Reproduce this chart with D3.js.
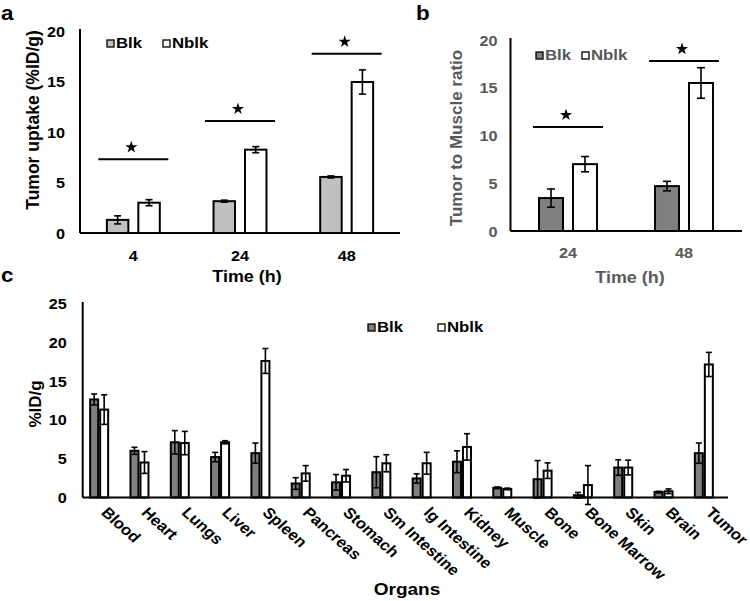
<!DOCTYPE html>
<html><head><meta charset="utf-8">
<script src="https://cdn.jsdelivr.net/npm/d3@7"></script>
<style>
body{margin:0;background:#fff;}
svg text{font-family:"Liberation Sans",Arial,sans-serif;font-weight:bold;}
</style></head>
<body><svg id="c" width="750" height="601"></svg>
<script>
// ---- data ----
const seriesNames = ["Blk","Nblk"];
// Panel a
const timesA = ["4","24","48"];
const blkA = [1.3, 3.15, 5.55];
const blkAerr = [0.4, 0.1, 0.1];
const nblkA = [3.0, 8.25, 14.95];
const nblkAerr = [0.3, 0.3, 1.2];
const sigA = [7.3, 11.1, 17.75];
const ticksA = [0,5,10,15,20];
// Panel b
const timesB = ["24","48"];
const blkB = [3.45, 4.7];
const blkBerr = [0.95, 0.5];
const nblkB = [7.0, 15.5];
const nblkBerr = [0.8, 1.6];
const sigB = [10.9, 17.8];
const ticksB = [0,5,10,15,20];
// Panel c
const organs = ["Blood","Heart","Lungs","Liver","Spleen","Pancreas","Stomach","Sm Intestine","lg Intestine","Kidney","Muscle","Bone","Bone Marrow","Skin","Brain","Tumor"];
const blkC = [12.6, 6.0, 7.1, 5.2, 5.7, 1.8, 1.95, 3.25, 2.45, 4.6, 1.25, 2.35, 0.3, 3.85, 0.7, 5.7];
const blkCerr = [0.7, 0.45, 1.5, 0.6, 1.3, 0.75, 1.0, 2.0, 0.6, 1.4, 0.1, 2.4, 0.35, 1.0, 0.1, 1.3];
const nblkC = [11.3, 4.5, 7.0, 7.1, 17.55, 3.1, 2.8, 4.4, 4.4, 6.5, 1.1, 3.45, 1.6, 3.85, 0.8, 17.1];
const nblkCerr = [1.9, 1.4, 1.5, 0.2, 1.6, 1.0, 0.8, 1.1, 1.4, 1.7, 0.1, 1.0, 2.5, 0.95, 0.3, 1.55];
const ticksC = [0,5,10,15,20,25];

const svg = d3.select("#c");
const SX = 1.12; // horizontal stretch of the lettering in the original figure

function stretchText(sel){
  // widen horizontal text around its anchor point
  sel.each(function(){
    const t = d3.select(this);
    const x = +t.attr("x") || 0;
    const prev = t.attr("transform") || "";
    t.attr("transform", `${prev} translate(${x},0) scale(${SX},1) translate(${-x},0)`);
  });
}

function panel(cfg){
  const g = svg.append("g");
  const y = d3.scaleLinear().domain(cfg.ydom).range(cfg.yr);
  const x = d3.scaleBand().domain(cfg.cats).range(cfg.xr).paddingInner(cfg.pad).paddingOuter(cfg.pad/2);
  const xs = d3.scaleBand().domain(seriesNames).range([0,x.bandwidth()]).paddingInner(cfg.ipad);
  const rows = cfg.cats.map((c,i)=>({c, vals:[
    {s:"Blk", v:cfg.blk[i], e:cfg.blkErr[i]},
    {s:"Nblk", v:cfg.nblk[i], e:cfg.nblkErr[i]}]}));
  const fills = {Blk:cfg.blkFill, Nblk:"#ffffff"};
  const sw = cfg.barStroke;
  const grp = g.selectAll("g.grp").data(rows).join("g").attr("transform", d=>`translate(${x(d.c)},0)`);
  grp.selectAll("rect").data(d=>d.vals).join("rect")
    .attr("x", d=>xs(d.s)+sw/2).attr("width", xs.bandwidth()-sw)
    .attr("y", d=>y(d.v)).attr("height", d=>y(0)-y(d.v))
    .attr("fill", d=>fills[d.s]).attr("stroke","#000").attr("stroke-width",sw);
  const eb = grp.selectAll("g.eb").data(d=>d.vals).join("g").attr("class","eb")
    .attr("transform", d=>`translate(${xs(d.s)+xs.bandwidth()/2},0)`);
  eb.append("line").attr("y1",d=>y(d.v+d.e)).attr("y2",d=>y(d.v-d.e)).attr("stroke","#000").attr("stroke-width",1.6);
  eb.append("line").attr("x1",-cfg.cap).attr("x2",cfg.cap).attr("y1",d=>y(d.v+d.e)).attr("y2",d=>y(d.v+d.e)).attr("stroke","#000").attr("stroke-width",1.6);
  eb.append("line").attr("x1",-cfg.cap).attr("x2",cfg.cap).attr("y1",d=>y(d.v-d.e)).attr("y2",d=>y(d.v-d.e)).attr("stroke","#000").attr("stroke-width",1.6);

  // y axis
  const ya = g.append("g").attr("transform",`translate(${cfg.yAxisX},0)`)
    .call(d3.axisLeft(y).tickValues(cfg.ticks).tickSize(0).tickSizeOuter(0).tickPadding(cfg.tickPadY));
  ya.select(".domain").attr("stroke","#000").attr("stroke-width",2).attr("d",`M0,${cfg.yTop}V${y(0)}`);
  ya.selectAll("text").attr("font-size",cfg.tickFont).attr("fill",cfg.textColor).attr("font-family",null).attr("dy","0.36em");
  stretchText(ya.selectAll("text"));
  // x axis line
  g.append("line").attr("x1",cfg.yAxisX).attr("x2",cfg.xEnd).attr("y1",y(0)).attr("y2",y(0)).attr("stroke","#000").attr("stroke-width",2);
  // x tick labels
  const xa = g.append("g").attr("transform",`translate(0,${y(0)})`)
    .call(d3.axisBottom(x).tickSize(0).tickPadding(cfg.tickPadX));
  xa.select(".domain").remove();
  xa.selectAll("text").attr("font-size",cfg.xTickFont).attr("fill",cfg.textColor).attr("font-family",null);
  if(cfg.rotate){
    xa.selectAll(".tick text").attr("text-anchor","start").attr("y",0).attr("dy",0)
      .attr("transform",`translate(1,16) scale(${SX},1) rotate(${cfg.rotate})`);
  } else {
    stretchText(xa.selectAll("text"));
  }
  // sig lines & stars
  if(cfg.sig){
    const sg = g.selectAll("g.sig").data(cfg.sig.map((v,i)=>({c:cfg.cats[i],v}))).join("g")
      .attr("transform", d=>`translate(${x(d.c)+x.bandwidth()/2},${y(d.v)})`);
    sg.append("line").attr("x1",-35).attr("x2",35).attr("stroke","#000").attr("stroke-width",2);
    sg.append("path").attr("d",d3.symbol(d3.symbolStar,46)).attr("transform","translate(-2,-12)").attr("fill","#000");
  }
  // legend
  cfg.legend.forEach((L,i)=>{
    g.append("rect").attr("x",L.x).attr("y",L.y-8).attr("width",7).attr("height",7)
      .attr("fill",fills[seriesNames[i]]).attr("stroke","#000").attr("stroke-width",1.3);
    const t = g.append("text").attr("x",L.x+9).attr("y",L.y).attr("font-size",cfg.legFont).attr("fill",cfg.textColor).text(seriesNames[i]);
    stretchText(t);
  });
  // titles
  g.append("text").attr("transform",`translate(${cfg.yTitle[0]},${cfg.yTitle[1]}) rotate(-90)`)
    .attr("text-anchor","middle").attr("font-size",cfg.titleFont).attr("fill",cfg.textColor).text(cfg.yTitleText);
  const xt = g.append("text").attr("x",cfg.xTitle[0]).attr("y",cfg.xTitle[1]).attr("text-anchor","middle")
    .attr("font-size",cfg.xTitleFont).attr("fill",cfg.textColor).text(cfg.xTitleText);
  stretchText(xt);
  const lt = g.append("text").attr("x",cfg.letter[0]).attr("y",cfg.letter[1]).attr("font-size",20).attr("fill","#000").text(cfg.letterText);
  stretchText(lt);
}

panel({cats:timesA, blk:blkA, blkErr:blkAerr, nblk:nblkA, nblkErr:nblkAerr, sig:sigA, ticks:ticksA,
  ydom:[0,20], yr:[233,31], xr:[80,400], pad:0.485, ipad:0.254, blkFill:"#c0c0c0", barStroke:2, cap:3.5,
  yAxisX:80, yTop:29, xEnd:400, tickPadY:15, tickPadX:18, tickFont:14.5, xTickFont:14.5, textColor:"#000",
  legend:[{x:107,y:48},{x:163,y:48}], legFont:15, yTitle:[39,120], yTitleText:"Tumor uptake (%ID/g)", titleFont:17.5,
  xTitle:[247,282], xTitleText:"Time (h)", xTitleFont:16, letter:[1,20], letterText:"a"});

panel({cats:timesB, blk:blkB, blkErr:blkBerr, nblk:nblkB, nblkErr:nblkBerr, sig:sigB, ticks:ticksB,
  ydom:[0,20], yr:[231,40], xr:[510,742], pad:0.483, ipad:0.235, blkFill:"#7f7f7f", barStroke:2, cap:4,
  yAxisX:510.5, yTop:38, xEnd:742, tickPadY:13, tickPadX:17, tickFont:14.5, xTickFont:14.5, textColor:"#595959",
  legend:[{x:536,y:60},{x:582,y:60}], legFont:15, yTitle:[462,138], yTitleText:"Tumor to Muscle ratio", titleFont:17,
  xTitle:[630,283], xTitleText:"Time (h)", xTitleFont:16, letter:[416,20], letterText:"b"});

panel({cats:organs, blk:blkC, blkErr:blkCerr, nblk:nblkC, nblkErr:nblkCerr, sig:null, ticks:ticksC,
  ydom:[0,25], yr:[497.5,303], xr:[79,724], pad:0.504, ipad:0, blkFill:"#7f7f7f", barStroke:2, cap:3,
  yAxisX:82.7, yTop:302, xEnd:728, tickPadY:16, tickPadX:0, tickFont:14.5, xTickFont:15, textColor:"#000", rotate:45,
  legend:[{x:368,y:332},{x:438,y:332}], legFont:15, yTitle:[41,404], yTitleText:"%ID/g", titleFont:17,
  xTitle:[407,595], xTitleText:"Organs", xTitleFont:17, letter:[1,282], letterText:"c"});
</script>
</body></html>
